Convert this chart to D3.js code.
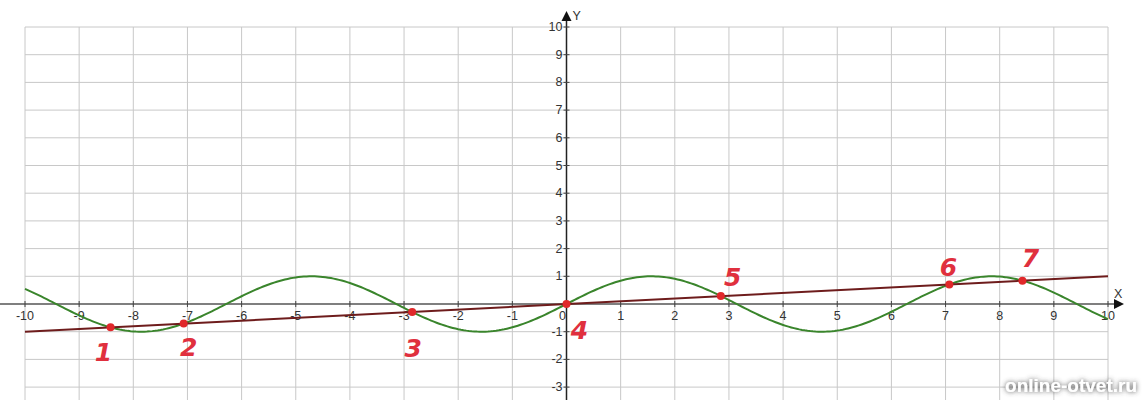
<!DOCTYPE html>
<meta charset="utf-8">
<style>
    body { margin: 0; background: #fff; }
    .grid line { stroke: #c8c8c8; stroke-width: 1; }
    .tick-label { font: 12.5px "Liberation Sans", Arial, sans-serif; fill: #333; }
    .mark-label { font: italic bold 25px "DejaVu Sans", sans-serif; fill: #e0303e; }
    .watermark { font: bold 19px "Liberation Sans", Arial, sans-serif; fill: #fff; }
</style>

<svg width="1143" height="400"></svg>

<script src="https://d3js.org/d3.v7.min.js"></script>

<script>
// axes ranges and ticks
var xTicks = [-10, -9, -8, -7, -6, -5, -4, -3, -2, -1, 0, 1, 2, 3, 4, 5, 6, 7, 8, 9, 10];
var yTicks = [-3, -2, -1, 1, 2, 3, 4, 5, 6, 7, 8, 9, 10];
var yGrid = [-3, -2, -1, 1, 2, 3, 4, 5, 6, 7, 8, 9, 10];

// green curve y = sin x, sampled every 0.05
var sinX = d3.range(-10, 10.001, 0.05);
var sinY = sinX.map(Math.sin);

// straight line y = x / 10
var lineX = [-10, 10];
var lineY = [-1, 1];

// intersection points of sin x = x / 10 and their hand-written numbers
var crossX = [-8.42, -7.07, -2.85, 0, 2.85, 7.07, 8.42];
var crossY = [-0.842, -0.707, -0.285, 0, 0.285, 0.707, 0.842];
var crossNames = ["1", "2", "3", "4", "5", "6", "7"];
// where each number sits relative to its dot
var nameDx = [-7, 5, 1, 13, 12, -1, 8];
var nameDy = [25, 23, 36, 26, -19, -17, -23];

var x = d3.scaleLinear().domain([-10, 10]).range([25, 1108]);
var y = d3.scaleLinear().domain([0, 10]).range([304, 27]);

var svg = d3.select("svg");

var shadow = svg.append("defs").append("filter")
    .attr("id", "shadow")
    .attr("x", "-10%").attr("y", "-40%").attr("width", "120%").attr("height", "180%");
shadow.append("feDropShadow")
    .attr("dx", 0).attr("dy", 0).attr("stdDeviation", 2.5)
    .attr("flood-color", "#444").attr("flood-opacity", 1);

var grid = svg.append("g").attr("class", "grid");
grid.selectAll(".v").data(xTicks).enter().append("line")
    .attr("x1", d => x(d)).attr("x2", d => x(d))
    .attr("y1", y(10)).attr("y2", 400);
grid.selectAll(".h").data(yGrid).enter().append("line")
    .attr("x1", x(-10)).attr("x2", x(10))
    .attr("y1", d => y(d)).attr("y2", d => y(d));

// x axis
svg.append("line")
    .attr("x1", 0).attr("x2", 1116)
    .attr("y1", y(0)).attr("y2", y(0))
    .attr("stroke", "#555").attr("stroke-width", 1.5);
svg.append("path")
    .attr("d", d3.line()([[1114, y(0) - 5], [1124, y(0)], [1114, y(0) + 5]]) + "Z")
    .attr("fill", "#111");
svg.append("text").attr("class", "tick-label")
    .attr("x", 1114).attr("y", y(0) - 6).text("X");

// y axis
svg.append("line")
    .attr("x1", x(0)).attr("x2", x(0))
    .attr("y1", 400).attr("y2", 18)
    .attr("stroke", "#222").attr("stroke-width", 1.5);
svg.append("path")
    .attr("d", d3.line()([[x(0) - 5, 21], [x(0), 11], [x(0) + 5, 21]]) + "Z")
    .attr("fill", "#111");
svg.append("text").attr("class", "tick-label")
    .attr("x", x(0) + 6).attr("y", 20).text("Y");

// x tick marks and labels
svg.append("g").selectAll("line").data(xTicks).enter().append("line")
    .attr("x1", d => x(d)).attr("x2", d => x(d))
    .attr("y1", y(0) - 3).attr("y2", y(0) + 3)
    .attr("stroke", "#444");
svg.append("g").selectAll("text").data(xTicks).enter().append("text")
    .attr("class", "tick-label")
    .attr("x", d => d === 0 ? x(d) - 4 : x(d))
    .attr("y", y(0) + 16)
    .attr("text-anchor", "middle")
    .text(d => d);

// y tick marks and labels
svg.append("g").selectAll("line").data(yTicks).enter().append("line")
    .attr("x1", x(0) - 3).attr("x2", x(0) + 3)
    .attr("y1", d => y(d)).attr("y2", d => y(d))
    .attr("stroke", "#444");
svg.append("g").selectAll("text").data(yTicks).enter().append("text")
    .attr("class", "tick-label")
    .attr("x", x(0) - 4)
    .attr("y", d => y(d) + 4)
    .attr("text-anchor", "end")
    .text(d => d);

// curves
var line = d3.line().x(d => x(d[0])).y(d => y(d[1]));
svg.append("path")
    .datum(d3.zip(sinX, sinY))
    .attr("d", line)
    .attr("fill", "none").attr("stroke", "#3a852c").attr("stroke-width", 2);
svg.append("path")
    .datum(d3.zip(lineX, lineY))
    .attr("d", line)
    .attr("fill", "none").attr("stroke", "#6e1c1c").attr("stroke-width", 2);

// intersection dots and numbers
var pts = d3.zip(crossX, crossY, crossNames, nameDx, nameDy);
svg.append("g").selectAll("circle").data(pts).enter().append("circle")
    .attr("cx", d => x(d[0])).attr("cy", d => y(d[1]))
    .attr("r", 4).attr("fill", "#e0282a");
svg.append("g").selectAll("text").data(pts).enter().append("text")
    .attr("class", "mark-label")
    .attr("x", d => x(d[0]) + d[3])
    .attr("y", d => y(d[1]) + d[4] + 9)
    .attr("text-anchor", "middle")
    .text(d => d[2]);

svg.append("text").attr("class", "watermark")
    .attr("x", 1137).attr("y", 392)
    .attr("text-anchor", "end")
    .attr("filter", "url(#shadow)")
    .text("online-otvet.ru");
</script>
